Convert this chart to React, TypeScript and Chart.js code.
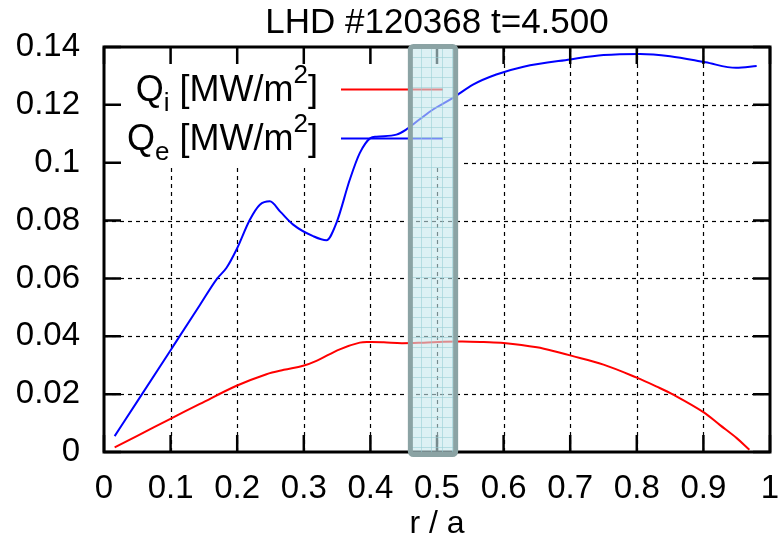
import React, { useEffect, useRef } from 'react';
import { Chart, registerables } from 'chart.js';

Chart.register(...registerables);

const titleText = 'LHD #120368 t=4.500';
const xAxisTitle = 'r / a';
const xTickLabels = ['0', '0.1', '0.2', '0.3', '0.4', '0.5', '0.6', '0.7', '0.8', '0.9', '1'];
const yTickLabels = ['0', '0.02', '0.04', '0.06', '0.08', '0.1', '0.12', '0.14'];

const qiR = [0.016, 0.05, 0.099, 0.144, 0.199, 0.244, 0.27, 0.299, 0.319, 0.354, 0.384, 0.4, 0.42, 0.447, 0.48, 0.51, 0.538, 0.57, 0.6, 0.65, 0.685, 0.7, 0.75, 0.8, 0.83, 0.855, 0.9, 0.925, 0.95, 0.969];
const qiValues = [0.0016, 0.0056, 0.0114, 0.0166, 0.0229, 0.0269, 0.0284, 0.0298, 0.0315, 0.0355, 0.0378, 0.038, 0.0379, 0.0376, 0.0378, 0.0381, 0.0382, 0.038, 0.0377, 0.0362, 0.0343, 0.0334, 0.0302, 0.0257, 0.0226, 0.0198, 0.0138, 0.0093, 0.0048, 0.0008];

const qeR = [0.016, 0.05, 0.1, 0.144, 0.169, 0.184, 0.199, 0.219, 0.234, 0.249, 0.265, 0.284, 0.314, 0.334, 0.349, 0.369, 0.384, 0.4, 0.409, 0.439, 0.454, 0.474, 0.494, 0.524, 0.554, 0.589, 0.63, 0.7, 0.75, 0.805, 0.85, 0.903, 0.949, 0.98];
const qeValues = [0.0055, 0.0175, 0.0352, 0.0508, 0.0597, 0.0637, 0.07, 0.0803, 0.0855, 0.0867, 0.083, 0.0786, 0.0746, 0.0732, 0.0792, 0.0941, 0.1033, 0.1085, 0.109, 0.1097, 0.1115, 0.115, 0.1184, 0.1224, 0.127, 0.1305, 0.1332, 0.1357, 0.1372, 0.1376, 0.1368, 0.1347, 0.1328, 0.1334];

const seriesLabels = ['i', 'e'];
const highlightRange = [0.46, 0.528];

const FONT = '"Liberation Sans", Arial, Helvetica, sans-serif';
const W = 780;
const H = 541;

export default function App() {
  const ref = useRef<HTMLCanvasElement>(null);

  useEffect(() => {
    const canvas = ref.current;
    if (!canvas) return;
    document.body.style.margin = '0';
    document.body.style.overflow = 'hidden';

    const drawRich = (ctx: CanvasRenderingContext2D, rightX: number, baseY: number, sub: string) => {
      const parts = [
        { t: 'Q', size: 36, dy: 0 },
        { t: sub, size: 26, dy: 10 },
        { t: ' [MW/m', size: 36, dy: 0 },
        { t: '2', size: 26, dy: -18 },
        { t: ']', size: 36, dy: 0 },
      ];
      let total = 0;
      const widths = parts.map((p) => {
        ctx.font = `${p.size}px ${FONT}`;
        const w = ctx.measureText(p.t).width;
        total += w;
        return w;
      });
      let cx = rightX - total;
      ctx.textAlign = 'left';
      ctx.textBaseline = 'alphabetic';
      ctx.fillStyle = '#000';
      parts.forEach((p, i) => {
        ctx.font = `${p.size}px ${FONT}`;
        ctx.fillText(p.t, cx, baseY + p.dy);
        cx += widths[i];
      });
    };

    const plugin = {
      id: 'gnuplotStyle',
      beforeDatasetsDraw(chart: any) {
        const { ctx, chartArea, scales } = chart;
        const { left, right, top, bottom } = chartArea;
        const xs = scales.x;
        const ys = scales.y;
        ctx.save();
        ctx.strokeStyle = '#000';
        ctx.lineWidth = 1.2;
        ctx.setLineDash([4, 4]);
        xs.ticks.forEach((t: any, i: number) => {
          if (i === 0 || i === xs.ticks.length - 1) return;
          const px = Math.round(xs.getPixelForValue(t.value)) + 0.5;
          ctx.beginPath();
          ctx.moveTo(px, bottom);
          ctx.lineTo(px, top);
          ctx.stroke();
        });
        ys.ticks.forEach((t: any, i: number) => {
          if (i === 0 || i === ys.ticks.length - 1) return;
          const py = Math.round(ys.getPixelForValue(t.value)) + 0.5;
          ctx.beginPath();
          ctx.moveTo(left, py);
          ctx.lineTo(right, py);
          ctx.stroke();
        });
        ctx.setLineDash([]);
        // legend background
        ctx.fillStyle = '#fff';
        ctx.fillRect(left, top, 460 - left, 165 - top);
        ctx.restore();
      },
      afterDatasetsDraw(chart: any) {
        const { ctx, chartArea, scales } = chart;
        const { left, right, top, bottom } = chartArea;
        const xs = scales.x;
        const ys = scales.y;
        ctx.save();
        // legend
        drawRich(ctx, 318, 101, seriesLabels[0]);
        drawRich(ctx, 318, 150, seriesLabels[1]);
        ctx.lineWidth = 2;
        ctx.strokeStyle = 'rgb(255,0,0)';
        ctx.beginPath();
        ctx.moveTo(341, 89.5);
        ctx.lineTo(443, 89.5);
        ctx.stroke();
        ctx.strokeStyle = 'rgb(0,0,255)';
        ctx.beginPath();
        ctx.moveTo(341, 138.5);
        ctx.lineTo(443, 138.5);
        ctx.stroke();
        // ticks
        ctx.strokeStyle = '#000';
        ctx.lineWidth = 2.5;
        const tl = 17;
        xs.ticks.forEach((t: any) => {
          const px = xs.getPixelForValue(t.value);
          ctx.beginPath();
          ctx.moveTo(px, bottom);
          ctx.lineTo(px, bottom - tl);
          ctx.moveTo(px, top);
          ctx.lineTo(px, top + tl);
          ctx.stroke();
        });
        ys.ticks.forEach((t: any) => {
          const py = ys.getPixelForValue(t.value);
          ctx.beginPath();
          ctx.moveTo(left, py);
          ctx.lineTo(left + tl, py);
          ctx.moveTo(right, py);
          ctx.lineTo(right - tl, py);
          ctx.stroke();
        });
        // frame
        ctx.lineWidth = 3;
        ctx.strokeRect(left, top, right - left, bottom - top);
        ctx.restore();
      },
      afterDraw(chart: any) {
        const { ctx, chartArea, scales } = chart;
        const { left, right, top, bottom } = chartArea;
        const xs = scales.x;
        ctx.save();
        // title and axis title
        ctx.fillStyle = '#000';
        ctx.textAlign = 'center';
        ctx.textBaseline = 'alphabetic';
        ctx.font = `35px ${FONT}`;
        ctx.fillText(titleText, (left + right) / 2, 33);
        ctx.font = `32px ${FONT}`;
        ctx.fillText(xAxisTitle, (left + right) / 2, 533);
        // highlight box
        const x0 = xs.getPixelForValue(highlightRange[0]);
        const x1 = xs.getPixelForValue(highlightRange[1]);
        const y0 = top - 0.5;
        const y1 = bottom + 2.5;
        ctx.fillStyle = 'rgba(198,232,236,0.6)';
        ctx.fillRect(x0, y0, x1 - x0, y1 - y0);
        ctx.strokeStyle = 'rgba(150,205,212,0.55)';
        ctx.lineWidth = 1;
        ctx.beginPath();
        for (let gx = x0 + 10.5; gx < x1 - 2; gx += 10.5) {
          ctx.moveTo(Math.round(gx) + 0.5, y0);
          ctx.lineTo(Math.round(gx) + 0.5, y1);
        }
        for (let gy = y0 + 10; gy < y1 - 2; gy += 10) {
          ctx.moveTo(x0, Math.round(gy) + 0.5);
          ctx.lineTo(x1, Math.round(gy) + 0.5);
        }
        ctx.stroke();
        ctx.strokeStyle = 'rgb(139,163,164)';
        ctx.lineWidth = 5;
        ctx.beginPath();
        if ((ctx as any).roundRect) {
          (ctx as any).roundRect(x0, y0, x1 - x0, y1 - y0, 3);
        } else {
          ctx.rect(x0, y0, x1 - x0, y1 - y0);
        }
        ctx.stroke();
        ctx.restore();
      },
    };

    const chart = new Chart(canvas, {
      type: 'line',
      data: {
        datasets: [
          {
            label: 'Qi',
            data: qiR.map((r, i) => ({ x: r, y: qiValues[i] })),
            borderColor: 'rgb(255,0,0)',
            borderWidth: 2,
            pointRadius: 0,
            fill: false,
            tension: 0.35,
          },
          {
            label: 'Qe',
            data: qeR.map((r, i) => ({ x: r, y: qeValues[i] })),
            borderColor: 'rgb(0,0,255)',
            borderWidth: 2,
            pointRadius: 0,
            fill: false,
            cubicInterpolationMode: 'monotone',
          },
        ],
      },
      options: {
        animation: false,
        responsive: false,
        maintainAspectRatio: false,
        devicePixelRatio: 1,
        layout: { padding: { top: 47, right: 10, left: 0, bottom: 0 } },
        plugins: {
          legend: { display: false },
          tooltip: { enabled: false },
          title: { display: false },
        },
        scales: {
          x: {
            type: 'linear',
            min: 0,
            max: 1,
            grid: { display: false, drawTicks: false },
            border: { display: false },
            ticks: {
              stepSize: 0.1,
              autoSkip: false,
              maxRotation: 0,
              color: '#000',
              padding: 17,
              font: { family: FONT, size: 33 },
              callback: (_v: any, i: number) => xTickLabels[i],
            },
            afterFit: (s: any) => {
              s.height = 89;
              s.paddingLeft = 0;
              s.paddingRight = 0;
            },
          },
          y: {
            type: 'linear',
            min: 0,
            max: 0.14,
            grid: { display: false, drawTicks: false },
            border: { display: false },
            ticks: {
              stepSize: 0.02,
              autoSkip: false,
              color: '#000',
              padding: 24,
              font: { family: FONT, size: 33 },
              callback: (_v: any, i: number) => yTickLabels[i],
            },
            afterFit: (s: any) => {
              s.width = 104;
            },
          },
        },
      },
      plugins: [plugin],
    } as any);

    return () => chart.destroy();
  }, []);

  return (
    <div style={{ position: 'absolute', left: 0, top: 0, width: W, height: H, overflow: 'hidden', background: '#fff' }}>
      <canvas ref={ref} width={W} height={H} style={{ display: 'block', width: W, height: H }} />
    </div>
  );
}
